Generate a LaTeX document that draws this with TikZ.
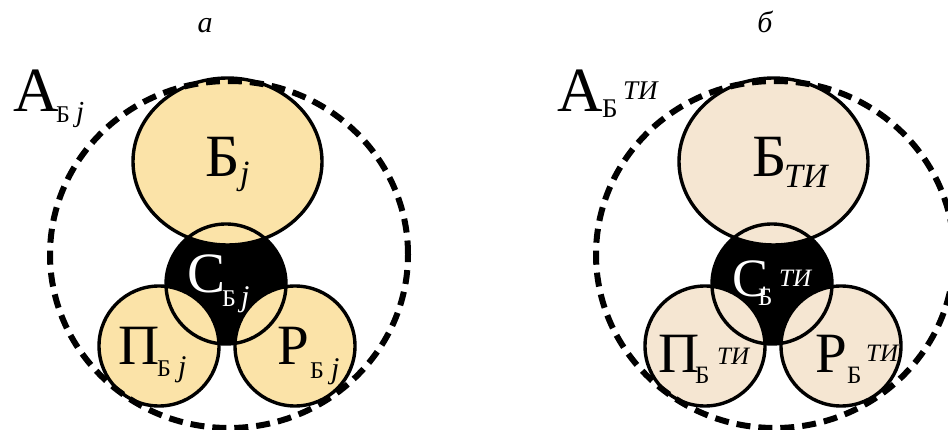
\documentclass[tikz,border=0pt]{standalone}
\usepackage{fontspec}
\setmainfont{Liberation Serif}
\definecolor{fillA}{HTML}{FBE3A8}
\definecolor{fillB}{HTML}{F5E6D2}
\newcommand\fsz[1]{\fontsize{#1}{#1}\selectfont}
\tikzset{
  ring/.style={line width=3.4pt},
  outerring/.style={line width=6pt, dash pattern=on 14pt off 8pt},
  lbl/.style={inner sep=0pt, anchor=base west},
  caplbl/.style={inner sep=0pt, anchor=base},
}
\newcommand\panel[1]{%
  \fill[black] (226,284) circle (60pt);
  \fill[#1] (227.5,161.5) ellipse (94.5pt and 83.5pt);
  \fill[#1] (159,346) circle (60pt);
  \fill[#1] (295,346) circle (60pt);
  \draw[ring] (227.5,161.5) ellipse (94.5pt and 83.5pt);
  \draw[ring] (159,346) circle (60pt);
  \draw[ring] (295,346) circle (60pt);
  \draw[ring] (226,284) circle (60pt);
  \draw[outerring] (229,254.5) ellipse (179pt and 173.5pt);
}
\begin{document}
\begin{tikzpicture}[x=1pt,y=-1pt]
\useasboundingbox (0,0) rectangle (948,430);
\fill[white] (0,0) rectangle (948,430);
% panel a
\begin{scope}
  \panel{fillA}
\end{scope}
% panel b
\begin{scope}[xshift=546pt]
  \panel{fillB}
\end{scope}
% captions
\node[caplbl, font=\fsz{30}\itshape] (capa) at (205,33) {а};
\node[caplbl, font=\fsz{30}\itshape] (capb) at (765,33) {б};
% labels panel a
\node[lbl, font=\fsz{63}] (aA) at (13,112) {А};
\node[lbl, font=\fsz{24}] (aAs) at (56,123) {Б};
\node[lbl, font=\fsz{29}\itshape] (aAj) at (76,122) {j};
\node[lbl, font=\fsz{60}] (aB) at (205,177) {Б};
\node[lbl, font=\fsz{34}\itshape] (aBj) at (240,185) {j};
\node[lbl, font=\fsz{57}, text=white] (aC) at (187,293) {С};
\node[lbl, font=\fsz{24}, text=white] (aCs) at (222,307) {Б};
\node[lbl, font=\fsz{30}\itshape, text=white] (aCj) at (241,307) {j};
\node[lbl, font=\fsz{57}] (aP) at (118,365) {П};
\node[lbl, font=\fsz{24}] (aPs) at (157,377) {Б};
\node[lbl, font=\fsz{30}\itshape] (aPj) at (178,377) {j};
\node[lbl, font=\fsz{57}] (aR) at (277,365) {Р};
\node[lbl, font=\fsz{24}] (aRs) at (310,378) {Б};
\node[lbl, font=\fsz{30}\itshape] (aRj) at (331,378) {j};
% labels panel b
\node[lbl, font=\fsz{63}] (bA) at (557,112) {А};
\node[lbl, font=\fsz{27}] (bAs) at (602,118) {Б};
\node[lbl, font=\fsz{27}\itshape] (bAt) at (623,100) {ТИ};
\node[lbl, font=\fsz{60}] (bB) at (752,177) {Б};
\node[lbl, font=\fsz{34}\itshape] (bBt) at (784,188) {ТИ};
\node[lbl, font=\fsz{54}, text=white] (bC) at (732,297) {С};
\node[lbl, font=\fsz{25}, text=white] (bCs) at (758,306) {Б};
\node[lbl, font=\fsz{25}\itshape, text=white] (bCt) at (779,287) {ТИ};
\node[lbl, font=\fsz{57}] (bP) at (658,373) {П};
\node[lbl, font=\fsz{25}] (bPs) at (695,383) {Б};
\node[lbl, font=\fsz{25}\itshape] (bPt) at (717,364) {ТИ};
\node[lbl, font=\fsz{57}] (bR) at (815,373) {Р};
\node[lbl, font=\fsz{25}] (bRs) at (847,384) {Б};
\node[lbl, font=\fsz{25}\itshape] (bRt) at (866,362) {ТИ};
\end{tikzpicture}
\end{document}
